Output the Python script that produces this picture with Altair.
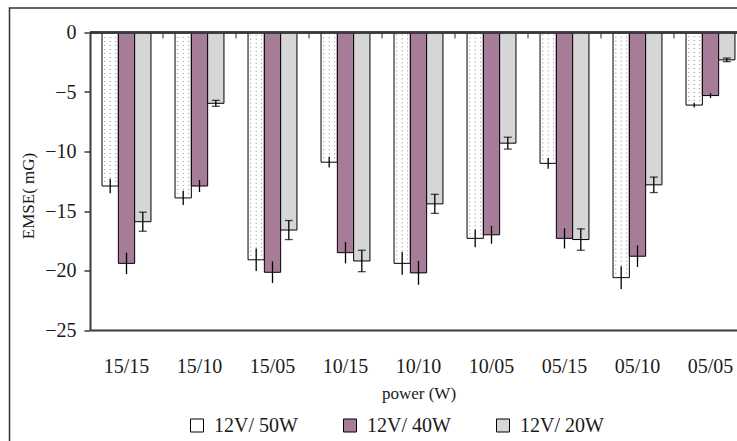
import altair as alt
import pandas as pd

# Power settings on the x axis
categories = ["15/15", "15/10", "15/05", "10/15", "10/10", "10/05", "05/15", "05/10", "05/05"]
series = ["12V/ 50W", "12V/ 40W", "12V/ 20W"]

# Mean EMSE (mG) per lamp type
emse_50w = [-12.9, -13.9, -19.1, -10.9, -19.4, -17.3, -11.0, -20.6, -6.1]
emse_40w = [-19.4, -12.9, -20.15, -18.5, -20.2, -17.0, -17.3, -18.8, -5.3]
emse_20w = [-15.9, -5.95, -16.6, -19.2, -14.4, -9.3, -17.4, -12.8, -2.3]

# Error bar half-widths
err_50w = [0.6, 0.6, 0.95, 0.45, 0.95, 0.75, 0.45, 0.95, 0.2]
err_40w = [0.9, 0.5, 0.9, 0.9, 1.0, 0.75, 0.85, 0.9, 0.2]
err_20w = [0.8, 0.25, 0.8, 0.9, 0.8, 0.5, 0.9, 0.65, 0.15]

fill_colors = ["#ffffff", "#a67c99", "#d6d6d6"]
FONT = "Liberation Serif"
INK = "#1a1a1a"
AXIS = "#3a3a3a"
X_RANGE = [0, 657]

rows = []
for s, vals, errs in zip(series, [emse_50w, emse_40w, emse_20w], [err_50w, err_40w, err_20w]):
    for c, v, e in zip(categories, vals, errs):
        rows.append({"power": c, "series": s, "emse": v, "lo": v - e, "hi": v + e})
df = pd.DataFrame(rows)

# dotted texture columns inside the 50W bars (3 of 9 sub-slots per group)
slots = [f"s{i}" for i in range(9)]
dot_rows = []
for c, v in zip(categories, emse_50w):
    for sl in slots[:3]:
        dot_rows.append({"power": c, "slot": sl, "emse": v})
dots_df = pd.DataFrame(dot_rows)

# category boundaries (point scale over the same pixel range)
edges = [f"e{i}" for i in range(len(categories) + 1)]

x_scale = alt.Scale(domain=categories, range=X_RANGE, paddingInner=0.33, paddingOuter=0.165)
y_scale = alt.Scale(domain=[-25, 0], nice=False)
off_scale = alt.Scale(domain=series, paddingInner=0, paddingOuter=0)

x_bottom = alt.X(
    "power:N", scale=x_scale, sort=categories,
    axis=alt.Axis(
        orient="bottom", title="power (W)", labelAngle=0, ticks=False, tickSize=0,
        domainColor=AXIS, domainWidth=2, labelFont=FONT, labelFontSize=20,
        labelColor=INK, labelPadding=26, grid=False,
        titleFont=FONT, titleFontSize=17, titleFontWeight="normal", titleColor=INK,
        titleBaseline="alphabetic", titleY=68,
    ),
)
x_plain = alt.X("power:N", scale=x_scale, sort=categories, axis=None)
y_axis = alt.Axis(
    values=[-25, -20, -15, -10, -5, 0], grid=False, domainColor=AXIS, domainWidth=2,
    tickColor=AXIS, tickWidth=1.5, tickSize=6, labelFont=FONT, labelFontSize=20,
    labelColor=INK, labelPadding=8, title="EMSE( mG)", titleFont=FONT,
    titleFontSize=17, titleFontWeight="normal", titleColor=INK,
    titleX=-62, titleY=163, titleBaseline="middle", titleAlign="center",
)

bars = alt.Chart(df).mark_bar(stroke="black", strokeWidth=1).encode(
    x=x_bottom,
    xOffset=alt.XOffset("series:N", scale=off_scale, sort=series),
    y=alt.Y("emse:Q", scale=y_scale, axis=y_axis),
    color=alt.Color(
        "series:N", scale=alt.Scale(domain=series, range=fill_colors),
        legend=alt.Legend(
            orient="none", legendX=97, legendY=383, direction="horizontal", title=None,
            symbolType="square", symbolSize=169, symbolStrokeColor="black",
            symbolStrokeWidth=1, labelFont=FONT, labelFontSize=20, labelColor=INK,
            labelOffset=7, columnPadding=42, padding=0,
        ),
    ),
)

dots = alt.Chart(dots_df).mark_rule(strokeDash=[1, 3], color="#8a8a8a", strokeWidth=1).encode(
    x=x_plain,
    xOffset=alt.XOffset("slot:N", scale=alt.Scale(domain=slots, paddingInner=0, paddingOuter=0)),
    y=alt.Y("emse:Q", scale=y_scale),
    y2=alt.datum(0),
)

err_rules = alt.Chart(df).mark_rule(color="black", strokeWidth=1.3).encode(
    x=x_plain,
    xOffset=alt.XOffset("series:N", scale=off_scale, sort=series),
    y=alt.Y("lo:Q", scale=y_scale),
    y2="hi:Q",
)

caps = alt.Chart(df[df["series"] == series[2]]).transform_fold(
    ["lo", "hi"], as_=["end", "val"]
).mark_tick(color="black", size=8, thickness=1.3).encode(
    x=x_plain,
    xOffset=alt.XOffset("series:N", scale=off_scale, sort=series),
    y=alt.Y("val:Q", scale=y_scale),
)

zero_line = alt.Chart(pd.DataFrame({"power": categories})).mark_rule(
    color=AXIS, strokeWidth=1.5
).encode(y=alt.datum(0))

# short category-boundary ticks hanging below the zero line
boundary_ticks = alt.Chart(pd.DataFrame({"edge": edges[1:-1], "pos": [-0.25] * (len(edges) - 2)})).mark_tick(
    color=AXIS, orient="vertical", size=6, thickness=1.5
).encode(
    x=alt.X("edge:N", scale=alt.Scale(type="point", domain=edges, range=X_RANGE, padding=0), axis=None),
    y=alt.Y("pos:Q", scale=y_scale),
)

frame = alt.Chart(pd.DataFrame({"k": [0]})).mark_rect(
    filled=False, stroke="#333333", strokeWidth=1.5
).encode(
    x=alt.value(-80.5), x2=alt.value(760), y=alt.value(-24.5), y2=alt.value(520)
)

chart = alt.layer(frame, bars, dots, err_rules, caps, zero_line, boundary_ticks).resolve_scale(
    x="independent", xOffset="independent"
).properties(
    width=647, height=297.5,
    autosize=alt.AutoSizeParams(type="none"),
    padding={"left": 90, "top": 32.5, "right": 0, "bottom": 111},
).configure_view(strokeWidth=0).configure(background="white")

chart.save("out.html", embed_options={"renderer": "svg", "actions": False})
